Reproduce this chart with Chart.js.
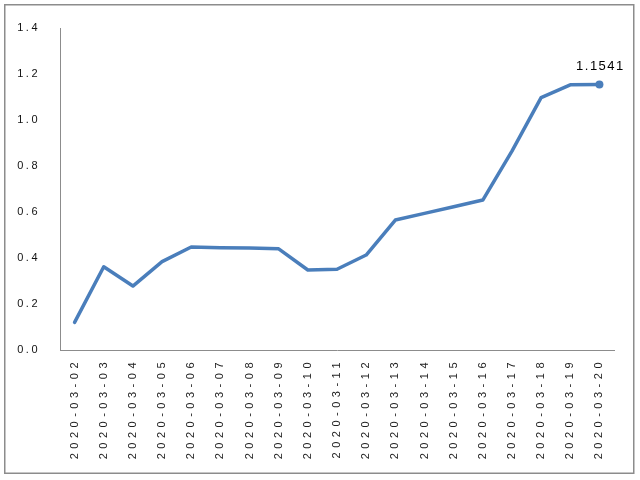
<!DOCTYPE html>
<html>
<head>
<meta charset="utf-8">
<script src="https://cdn.jsdelivr.net/npm/chart.js@4/dist/chart.umd.min.js"></script>
<style>
html,body{margin:0;padding:0;background:#fff;}
#wrap{width:640px;height:480px;position:relative;}
</style>
</head>
<body>
<div id="wrap"><canvas id="c" width="640" height="480"></canvas></div>
<script>
const categories = ["2020-03-02","2020-03-03","2020-03-04","2020-03-05","2020-03-06","2020-03-07","2020-03-08","2020-03-09","2020-03-10","2020-03-11","2020-03-12","2020-03-13","2020-03-14","2020-03-15","2020-03-16","2020-03-17","2020-03-18","2020-03-19","2020-03-20"];
const values = [0.12, 0.362, 0.278, 0.384, 0.448, 0.445, 0.443, 0.44, 0.348, 0.351, 0.413, 0.565, 0.594, 0.623, 0.652, 0.865, 1.097, 1.153, 1.1541];
const yTickMin = 0.0;
const yTickMax = 1.4;
const yTickStep = 0.2;
const labelledIndex = values.length - 1;
const labelText = "1.1541";

// letter spacing for axis labels (mimics the reference rendering)
function withSpacing(proto, sp){
  const orig = proto.drawLabels;
  proto.drawLabels = function(a){
    this.ctx.save();
    this.ctx.letterSpacing = sp;
    orig.call(this, a);
    this.ctx.restore();
  };
}
withSpacing(Chart.CategoryScale.prototype, '4.5px');
withSpacing(Chart.LinearScale.prototype, '2.5px');

const framePlugin = {
  id: 'frame',
  beforeDraw(chart){
    const ctx = chart.ctx;
    ctx.save();
    ctx.fillStyle = '#ffffff';
    ctx.fillRect(0,0,chart.width,chart.height);
    ctx.strokeStyle = '#8c8c8c';
    ctx.lineWidth = 1.5;
    ctx.strokeRect(4.75, 4.75, 629, 468.5);
    ctx.restore();
  }
};

const labelPlugin = {
  id: 'lastLabel',
  afterDatasetsDraw(chart){
    const meta = chart.getDatasetMeta(0);
    const pt = meta.data[labelledIndex];
    if(!pt) return;
    const ctx = chart.ctx;
    ctx.save();
    ctx.font = '13px "Liberation Sans", Arial, sans-serif';
    ctx.letterSpacing = '1.5px';
    ctx.fillStyle = '#000';
    ctx.textAlign = 'center';
    ctx.textBaseline = 'bottom';
    ctx.fillText(labelText, pt.x + 1, pt.y - 12);
    ctx.restore();
  }
};

new Chart(document.getElementById('c'), {
  type: 'line',
  data: {
    labels: categories,
    datasets: [{
      data: values,
      borderColor: '#4A7EBB',
      backgroundColor: '#4A7EBB',
      borderWidth: 3.5,
      tension: 0,
      fill: false,
      pointRadius: ctx => ctx.dataIndex === labelledIndex ? 4 : 0,
      pointBackgroundColor: '#4A7EBB',
      pointBorderColor: '#4A7EBB',
      pointBorderWidth: 0,
      borderCapStyle: 'round',
      borderJoinStyle: 'round'
    }]
  },
  options: {
    responsive: false,
    animation: false,
    devicePixelRatio: 1,
    layout: { padding: { top: 28, right: 26, left: 0, bottom: 0 } },
    plugins: { legend: { display: false }, tooltip: { enabled: false } },
    scales: {
      x: {
        offset: true,
        grid: { display: false, drawTicks: false },
        border: { display: true, color: '#8c8c8c', width: 1 },
        ticks: {
          minRotation: 90, maxRotation: 90, autoSkip: false,
          padding: 8,
          color: '#222',
          font: { family: '"Liberation Sans", Arial, sans-serif', size: 11 }
        },
        afterFit: s => { s.height = 130; }
      },
      y: {
        min: yTickMin, max: yTickMax,
        grid: { display: false, drawTicks: false },
        border: { display: true, color: '#8c8c8c', width: 1 },
        ticks: {
          stepSize: yTickStep,
          padding: 20,
          color: '#111',
          font: { family: '"Liberation Sans", Arial, sans-serif', size: 11 },
          callback: v => Number(v).toFixed(1)
        },
        afterFit: s => { s.width = 60; }
      }
    }
  },
  plugins: [framePlugin, labelPlugin]
});
</script>
</body>
</html>
